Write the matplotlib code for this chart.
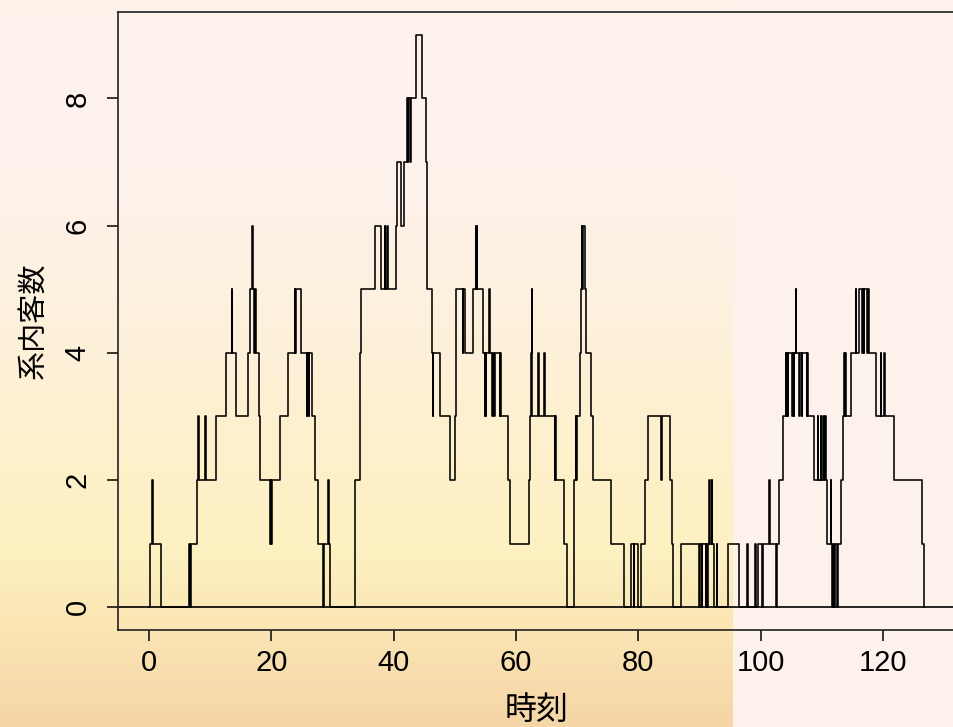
import numpy as np
import matplotlib
matplotlib.use("Agg")
import matplotlib.pyplot as plt
from matplotlib.colors import to_rgb

# ---- data: event times and number in system after each event ----
times = [0.0, 0.1, 0.5, 0.6, 2.0, 6.6, 6.7, 6.8, 7.9, 8.0, 8.2, 9.2, 9.35, 11.0, 12.6,
         13.5, 13.6, 14.3, 16.2, 16.5, 16.9, 17.05, 17.2, 17.3, 17.5, 18.0, 18.2, 19.8, 19.9,
         20.0, 20.1, 21.4, 22.75, 23.8, 23.9, 24.0, 24.9, 25.8, 25.9, 26.1, 26.2, 26.6, 27.1,
         27.65, 28.5, 28.55, 29.3, 29.4, 29.6, 33.6, 33.65, 34.45, 34.5, 34.7, 36.9, 38.0,
         38.5, 38.6, 38.9, 39.0, 40.4, 40.5, 41.2, 41.6, 42.1, 42.3, 42.4, 42.7, 42.8, 43.7,
         44.6, 45.3, 45.4, 45.5, 46.2, 46.25, 46.3, 46.45, 46.5, 47.5, 49.2, 50.0, 50.1, 50.15,
         51.3, 51.4, 51.7, 53.0, 53.4, 53.5, 53.55, 53.65, 54.6, 54.85, 54.95, 55.05, 55.15,
         55.6, 55.7, 56.1, 56.2, 56.4, 56.5, 57.3, 57.4, 57.6, 58.7, 58.95, 62.1, 62.3, 62.5,
         62.55, 62.6, 62.65, 63.6, 63.7, 64.6, 64.7, 66.3, 66.4, 66.6, 67.9, 68.3, 69.5, 69.55,
         69.8, 69.85, 69.9, 70.5, 70.6, 70.7, 70.8, 70.9, 71.2, 71.35, 72.3, 72.6, 75.5, 77.7,
         78.8, 79.3, 79.35, 79.9, 80.4, 81.0, 81.5, 83.7, 83.8, 85.1, 85.5, 85.6, 87.0, 89.95,
         90.0, 90.35, 90.4, 91.05, 91.1, 91.25, 91.3, 91.6, 91.7, 91.95, 92.05, 92.3, 92.8,
         92.85, 94.6, 96.4, 97.8, 97.9, 99.1, 99.3, 99.5, 100.2, 100.3, 101.4, 101.5, 102.5,
         102.6, 103.0, 103.6, 104.1, 104.2, 104.3, 104.45, 104.5, 105.1, 105.2, 105.4, 105.5,
         105.7, 105.8, 106.3, 106.4, 106.7, 106.8, 107.5, 107.55, 107.8, 108.7, 109.3, 109.35,
         109.8, 109.9, 110.2, 110.3, 110.5, 110.6, 110.8, 111.4, 111.5, 111.7, 111.8, 112.0,
         112.1, 112.5, 112.6, 113.1, 113.4, 113.6, 113.7, 113.85, 113.9, 114.7, 115.5, 115.6,
         116.0, 116.6, 116.7, 116.85, 116.9, 117.4, 117.5, 117.7, 118.8, 119.6, 119.7, 120.1,
         120.3, 121.8, 126.4, 126.7]
counts = [0, 1, 2, 1, 0, 1, 0, 1, 2, 3, 2, 3, 2, 3, 4,
          5, 4, 3, 4, 5, 6, 5, 4, 5, 4, 3, 2, 1, 2,
          1, 2, 3, 4, 5, 4, 5, 4, 3, 4, 3, 4, 3, 2,
          1, 0, 1, 2, 1, 0, 1, 2, 3, 4, 5, 6, 5,
          6, 5, 6, 5, 6, 7, 6, 7, 8, 7, 8, 7, 8, 9,
          8, 7, 6, 5, 4, 5, 4, 3, 4, 3, 2, 3, 4, 5,
          4, 5, 4, 5, 6, 5, 6, 5, 4, 3, 4, 3, 4,
          5, 4, 3, 4, 3, 4, 3, 4, 3, 2, 1, 2, 3, 4,
          5, 4, 3, 4, 3, 4, 3, 2, 3, 2, 1, 0, 1, 2,
          3, 2, 3, 4, 5, 6, 5, 6, 5, 4, 3, 2, 1, 0,
          1, 0, 1, 0, 1, 2, 3, 2, 3, 2, 1, 0, 1, 0,
          1, 0, 1, 0, 1, 0, 1, 2, 1, 2, 1, 0, 1,
          0, 1, 0, 1, 0, 1, 0, 1, 0, 1, 2, 1, 0,
          1, 2, 3, 4, 3, 4, 3, 4, 3, 4, 3, 4,
          5, 4, 3, 4, 3, 4, 3, 4, 3, 2, 3, 2,
          3, 2, 3, 2, 3, 2, 1, 2, 1, 0, 1, 0,
          1, 0, 1, 2, 3, 4, 3, 4, 3, 4, 5, 4,
          5, 4, 5, 4, 5, 4, 5, 4, 3, 4, 3, 4,
          3, 2, 1, 0]

xticks = [0, 20, 40, 60, 80, 100, 120]
yticks = [0, 2, 4, 6, 8]
xlabel = "時刻"
ylabel = "系内客数"

W, H = 954, 727
fig = plt.figure(figsize=(W / 100, H / 100), dpi=100)

# ---- background (slide-like gradient) ----
bg_ax = fig.add_axes([0, 0, 1, 1], zorder=-10)
stops_py = [0, 80, 200, 330, 450, 560, 620, 680, 727]
stops_col = ["#fdf2ea", "#fdf2ee", "#fdf2ea", "#fdf1dc", "#fdf0cc",
             "#fdf0c0", "#fbe6b4", "#f8dcad", "#f6d5a6"]
cols = np.array([to_rgb(c) for c in stops_col])
rows = np.arange(H)
grad = np.stack([np.interp(rows, stops_py, cols[:, k]) for k in range(3)], axis=1)
img = np.repeat(grad[:, None, :], W, axis=1)
img[:, 733:, :] = to_rgb("#fdf1ec")
bg_ax.imshow(img, aspect="auto", extent=[0, 1, 0, 1], origin="upper")
bg_ax.axis("off")

# ---- main axes ----
left = 118 / W
bottom = 1 - 630 / H
top = 1 - 12 / H
ax = fig.add_axes([left, bottom, 955 / W - left, top - bottom])
ax.set_facecolor("none")

ax.step(times, counts, where="post", color="black", lw=1.15)
ax.axhline(0, color="black", lw=1.2)

ax.set_xlim(-5.07, 131.75)
ax.set_ylim(-0.36, 9.36)
ax.set_xticks(xticks)
ax.set_yticks(yticks)

tick_font = dict(family=["Liberation Sans", "DejaVu Sans"], size=21)
ax.set_xticklabels([str(v) for v in xticks], **tick_font)
ax.set_yticklabels([str(v) for v in yticks], rotation=90, va="center", **tick_font)
ax.tick_params(axis="both", direction="out", length=8, width=1.1, color="black")
ax.tick_params(axis="x", pad=6)
ax.tick_params(axis="y", pad=11)

for s in ax.spines.values():
    s.set_linewidth(1.2)
    s.set_color("#222222")

cjk = ["Noto Sans CJK JP", "DejaVu Sans"]
ax.set_xlabel(xlabel, family=cjk, fontsize=23, labelpad=12)
ax.set_ylabel(ylabel, family=cjk, fontsize=21, labelpad=10)

fig.savefig("out.png", dpi=100)
